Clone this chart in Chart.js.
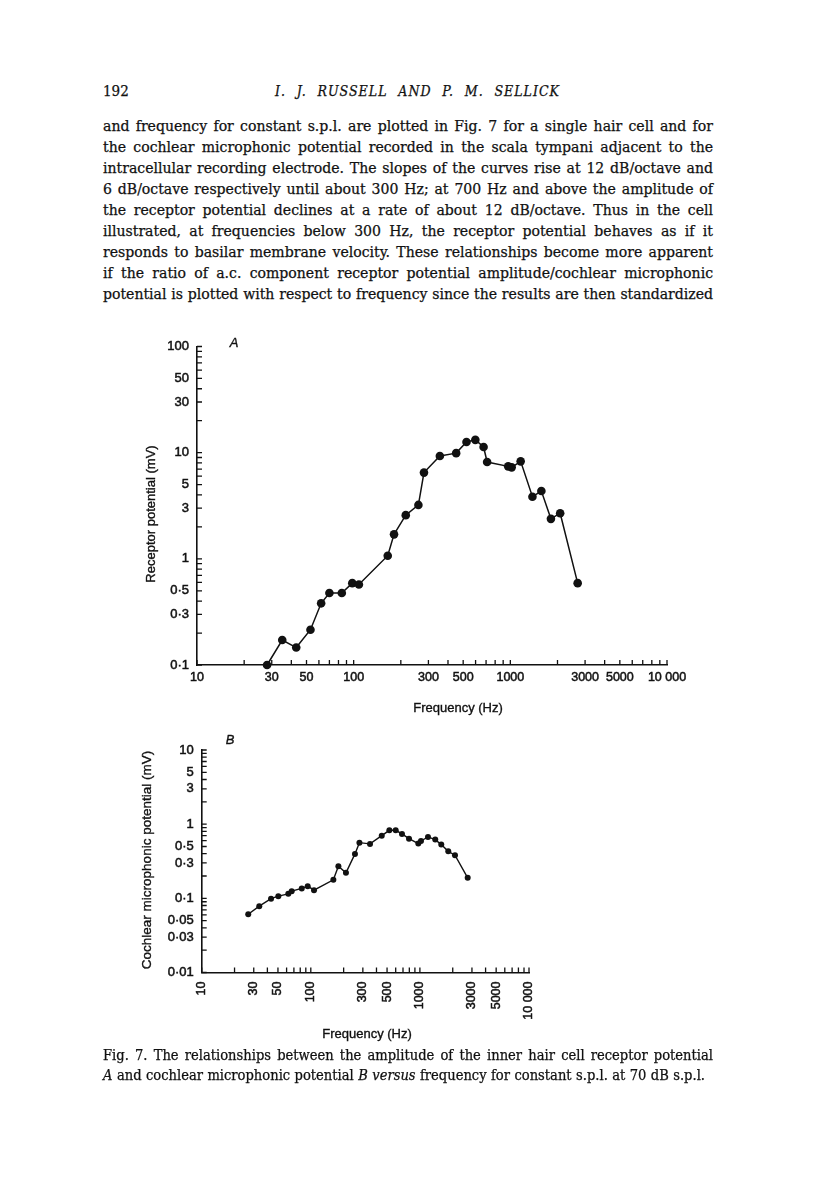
<!DOCTYPE html>
<html>
<head>
<meta charset="utf-8">
<script src="https://cdn.jsdelivr.net/npm/chart.js@4.4.1/dist/chart.umd.min.js"></script>
<style>
  html, body { margin: 0; padding: 0; background: #fff; }
  body { width: 816px; height: 1183px; position: relative; overflow: hidden;
         font-family: "DejaVu Serif Condensed", "DejaVu Serif", "Liberation Serif", serif; color: #111; }
  .ln { position: absolute; left: 103px; width: 610px; white-space: nowrap;
        text-align: justify; text-align-last: justify; font-size: 15px; line-height: 21px;
        -webkit-text-stroke: 0.25px #111; }
  .cap { line-height: 20px; }
  .sans { position: absolute; white-space: nowrap; font-family: "Liberation Sans", Arial, sans-serif;
          font-size: 13px; color: #111; -webkit-text-stroke: 0.35px #111; }
  .ctr { transform: translate(-50%, -50%); }
  .rot { transform: translate(-50%, -50%) rotate(-90deg); }
  canvas { position: absolute; }
</style>
</head>
<body>

<div class="ln" style="top:81px; width:auto; text-align-last:auto;">192</div>
<div class="ln" style="top:81px; left:275px; width:285px; font-style:italic; font-size:14px; letter-spacing:1px;">I. J. RUSSELL AND P. M. SELLICK</div>

<div class="ln body" style="top:114.5px">and frequency for constant s.p.l. are plotted in Fig. 7 for a single hair cell and for</div>
<div class="ln body" style="top:135.5px">the cochlear microphonic potential recorded in the scala tympani adjacent to the</div>
<div class="ln body" style="top:156.5px">intracellular recording electrode. The slopes of the curves rise at 12 dB/octave and</div>
<div class="ln body" style="top:177.5px">6 dB/octave respectively until about 300 Hz; at 700 Hz and above the amplitude of</div>
<div class="ln body" style="top:198.5px">the receptor potential declines at a rate of about 12 dB/octave. Thus in the cell</div>
<div class="ln body" style="top:219.5px">illustrated, at frequencies below 300 Hz, the receptor potential behaves as if it</div>
<div class="ln body" style="top:240.5px">responds to basilar membrane velocity. These relationships become more apparent</div>
<div class="ln body" style="top:261.5px">if the ratio of a.c. component receptor potential amplitude/cochlear microphonic</div>
<div class="ln body" style="top:282.5px">potential is plotted with respect to frequency since the results are then standardized</div>

<canvas id="chartA" width="600" height="400" style="left:100px; top:330px;"></canvas>
<canvas id="chartB" width="480" height="320" style="left:100px; top:730px;"></canvas>

<div class="sans ctr" style="left:234px; top:342px; font-style:italic;">A</div>
<div class="sans rot" style="left:150px; top:514px;">Receptor potential (mV)</div>
<div class="sans ctr" style="left:458px; top:707px;">Frequency (Hz)</div>

<div class="sans ctr" style="left:230px; top:739px; font-style:italic;">B</div>
<div class="sans rot" style="left:146px; top:860px; font-size:13.5px;">Cochlear microphonic potential (mV)</div>
<div class="sans ctr" style="left:367px; top:1033px;">Frequency (Hz)</div>

<div class="ln cap" style="top:1045px">Fig. 7. The relationships between the amplitude of the inner hair cell receptor potential</div>
<div class="ln cap" style="top:1065px; width:602px;"><i>A</i> and cochlear microphonic potential <i>B versus</i> frequency for constant s.p.l. at 70 dB s.p.l.</div>

<script>
// Panel A: inner hair cell receptor potential
const freqA = [28, 35, 43, 53, 62, 70, 84, 98, 108, 165, 181, 215, 259, 281, 355, 451,
               525, 598, 675, 711, 969, 1020, 1164, 1384, 1578, 1816, 2080, 2690];
const potA = [0.1, 0.172, 0.146, 0.215, 0.381, 0.476, 0.476, 0.59, 0.573, 1.07, 1.7, 2.58,
              3.22, 6.49, 9.29, 9.9, 12.6, 13.2, 11.3, 8.16, 7.43, 7.27, 8.28, 3.85, 4.35,
              2.38, 2.69, 0.59];

// Panel B: cochlear microphonic potential
const freqB = [26.7, 33.7, 43.2, 50.4, 62.2, 66.8, 82.6, 93.7, 107, 161, 179, 210, 254, 279,
               349, 447, 525, 600, 685, 795, 967, 1023, 1186, 1383, 1570, 1820, 2097, 2742];
const cmB = [0.061, 0.0785, 0.099, 0.107, 0.115, 0.125, 0.136, 0.146, 0.129, 0.178, 0.271,
             0.221, 0.397, 0.563, 0.542, 0.70, 0.826, 0.826, 0.738, 0.638, 0.547, 0.594,
             0.673, 0.619, 0.530, 0.430, 0.381, 0.189];

// Tick labels
const xTickValues = [10, 30, 50, 100, 300, 500, 1000, 3000, 5000, 10000];
const xTickLabels = ['10', '30', '50', '100', '300', '500', '1000', '3000', '5000', '10 000'];
const yTickValuesA = [0.1, 0.3, 0.5, 1, 3, 5, 10, 30, 50, 100];
const yTickLabelsA = ['0·1', '0·3', '0·5', '1', '3', '5', '10', '30', '50', '100'];
const yTickValuesB = [0.01, 0.03, 0.05, 0.1, 0.3, 0.5, 1, 3, 5, 10];
const yTickLabelsB = ['0·01', '0·03', '0·05', '0·1', '0·3', '0·5', '1', '3', '5', '10'];

const INK = '#111';
const SANS = '"Liberation Sans", Arial, sans-serif';

// one font size for a group of justified lines: the longest line just fits
function fitGroup(sel, maxSize) {
    const els = Array.from(document.querySelectorAll(sel));
    let size = maxSize;
    els.forEach(el => {
        const box = el.clientWidth;
        el.style.fontSize = '20px';
        el.style.width = 'auto';
        el.style.textAlignLast = 'left';
        size = Math.min(size, 20 * (box - 3) / el.offsetWidth);
        el.style.width = box + 'px';
        el.style.textAlignLast = '';
    });
    els.forEach(el => { el.style.fontSize = size.toFixed(2) + 'px'; });
}
fitGroup('.body', 16.5);
fitGroup('.cap', 15);

// 1..9 x 10^n ticks between min and max
function logTicks(min, max) {
    const out = [];
    for (let e = Math.round(Math.log10(min)); Math.pow(10, e) <= max * 1.0001; e++) {
        for (let k = 1; k <= 9; k++) {
            const v = +(k * Math.pow(10, e)).toPrecision(6);
            if (v >= min * 0.9999 && v <= max * 1.0001) out.push(v);
        }
    }
    return out;
}

function labelFor(values, labels) {
    return v => {
        const i = values.findIndex(t => Math.abs(t - v) / t < 1e-6);
        return i < 0 ? '' : labels[i];
    };
}

// ticks drawn inward from the axis lines
const inwardTicks = {
    id: 'inwardTicks',
    afterDraw(chart, args, opts) {
        const ctx = chart.ctx;
        const {left, bottom} = chart.chartArea;
        const len = opts.length || 5;
        ctx.save();
        ctx.strokeStyle = INK;
        ctx.lineWidth = 1.3;
        ctx.beginPath();
        chart.scales.x.ticks.forEach(t => {
            const px = chart.scales.x.getPixelForValue(t.value);
            ctx.moveTo(px, bottom);
            ctx.lineTo(px, bottom - len);
        });
        chart.scales.y.ticks.forEach(t => {
            const py = chart.scales.y.getPixelForValue(t.value);
            ctx.moveTo(left, py);
            ctx.lineTo(left + len, py);
        });
        ctx.stroke();
        ctx.restore();
    }
};

function makeChart(id, xs, ys, cfg) {
    return new Chart(document.getElementById(id), {
        type: 'line',
        data: {
            datasets: [{
                data: xs.map((x, i) => ({x: x, y: ys[i]})),
                borderColor: INK,
                borderWidth: cfg.lineWidth,
                pointRadius: cfg.radius,
                pointBackgroundColor: INK,
                pointBorderColor: INK,
                pointBorderWidth: 0,
                tension: 0,
                clip: false
            }]
        },
        options: {
            responsive: false,
            animation: false,
            devicePixelRatio: 1,
            layout: {padding: cfg.padding},
            plugins: {
                legend: {display: false},
                tooltip: {enabled: false},
                inwardTicks: {length: 5}
            },
            scales: {
                x: {
                    type: 'logarithmic',
                    min: 10,
                    max: 10000,
                    afterBuildTicks: s => { s.ticks = logTicks(10, 10000).map(v => ({value: v})); },
                    afterFit: s => { s.height = cfg.xHeight; },
                    grid: {display: false, drawTicks: false},
                    border: {display: true, color: INK, width: 1.6},
                    ticks: {
                        autoSkip: false,
                        padding: cfg.xPad,
                        minRotation: cfg.rotation,
                        maxRotation: cfg.rotation,
                        color: INK,
                        textStrokeColor: INK,
                        textStrokeWidth: 0.5,
                        font: {family: SANS, size: 12.5},
                        callback: labelFor(xTickValues, xTickLabels)
                    }
                },
                y: {
                    type: 'logarithmic',
                    min: cfg.yMin,
                    max: cfg.yMax,
                    afterBuildTicks: s => { s.ticks = logTicks(cfg.yMin, cfg.yMax).map(v => ({value: v})); },
                    afterFit: s => { s.width = cfg.yWidth; },
                    grid: {display: false, drawTicks: false},
                    border: {display: true, color: INK, width: 1.6},
                    ticks: {
                        autoSkip: false,
                        padding: 8,
                        color: INK,
                        textStrokeColor: INK,
                        textStrokeWidth: 0.5,
                        font: {family: SANS, size: 13},
                        callback: labelFor(cfg.yValues, cfg.yLabels)
                    }
                }
            }
        },
        plugins: [inwardTicks]
    });
}

makeChart('chartA', freqA, potA, {
    lineWidth: 1.5, radius: 4.3,
    padding: {top: 16.5, right: 33, left: 0, bottom: 0},
    xHeight: 65, yWidth: 97, xPad: 5, rotation: 0,
    yMin: 0.1, yMax: 100, yValues: yTickValuesA, yLabels: yTickLabelsA
});

makeChart('chartB', freqB, cmB, {
    lineWidth: 1.4, radius: 3,
    padding: {top: 20, right: 51, left: 0, bottom: 0},
    xHeight: 77.5, yWidth: 101.7, xPad: 9, rotation: 90,
    yMin: 0.01, yMax: 10, yValues: yTickValuesB, yLabels: yTickLabelsB
});
</script>
</body>
</html>
